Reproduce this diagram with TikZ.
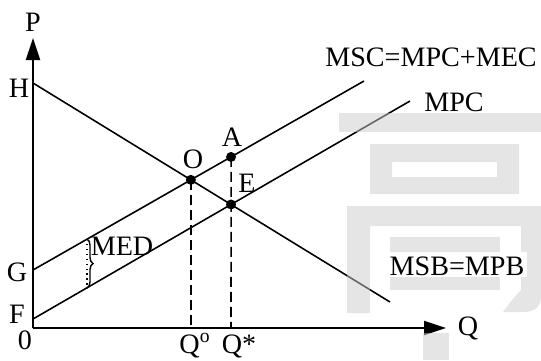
\documentclass[tikz,border=0pt]{standalone}
\usepackage{fontspec}
\setmainfont{Liberation Serif}
\usetikzlibrary{arrows.meta, decorations.pathreplacing}

\begin{document}
\begin{tikzpicture}[x=0.02cm, y=-0.02cm, >={Triangle[length=4.4mm, width=2.8mm]},
  every node/.style={font=\fontsize{16}{19}\selectfont, inner sep=0pt},
  curve/.style={line width=0.9pt},
  guide/.style={line width=0.9pt, dash pattern=on 0.2cm off 0.1cm},
  dot/.style={circle, fill, inner sep=0pt, minimum size=0.2cm},
  wm/.style={fill=gray!40, fill opacity=0.5}
]
  \useasboundingbox (0,0) rectangle (541,360);

  % Axes
  \coordinate (o0) at (33,328);
  \coordinate (ptop) at (33,38);
  \coordinate (qend) at (446,328);
  \draw[->, line width=1.1pt] (o0) -- (ptop);
  \draw[->, line width=1.1pt] (o0) -- (qend);

  % Demand and cost curves
  \coordinate (h) at (33,83);
  \coordinate (msb) at (390,302);
  \coordinate (g) at (33,270);
  \coordinate (msc) at (364,81);
  \coordinate (f) at (33,319);
  \coordinate (mpc) at (410,101);
  \draw[curve] (h) -- (msb);
  \draw[curve] (g) -- (msc);
  \draw[curve] (f) -- (mpc);

  % Equilibrium points
  \coordinate (o) at (intersection of h--msb and g--msc);
  \coordinate (e) at (intersection of h--msb and f--mpc);
  \coordinate (qo) at (o |- o0);
  \coordinate (qs) at (e |- o0);
  \coordinate (a) at (intersection of g--msc and e--qs);
  \draw[guide] (o) -- (qo);
  \draw[guide] (a) -- (qs);
  \node[dot] (dotO) at (o) {};
  \node[dot] (dotA) at (a) {};
  \node[dot] (dotE) at (e) {};

  % External damage between the two cost curves
  \coordinate (med1) at (87,239);
  \coordinate (med2) at (87,288);
  \draw[line width=0.8pt, dotted] (med1) -- (med2);
  \draw[line width=0.8pt, decorate, decoration={brace, amplitude=0.12cm}] (med1) -- (med2);

  % Labels
  \node (labP) at (33,22) {P};
  \node (labH) at (19,88) {H};
  \node (labG) at (17,272) {G};
  \node (labF) at (17,314) {F};
  \node (lab0) at (25,340) {0};
  \node (labQo) at (195,346) {Q\textsuperscript{o}};
  \node (labQs) at (239,346) {Q*};
  \node (labQ) at (468,328) {Q};
  \node (labO) at (193,159) {O};
  \node (labA) at (232,137) {A};
  \node (labE) at (247,183) {E};
  \node (labMED) at (122,246) {MED};
  \node (labMSC) at (431,57) {MSC=MPC+MEC};
  \node (labMPC) at (454,102) {MPC};
  \node (labMSB) at (457,266) {MSB=MPB};

  % Watermark
  \begin{scope}[even odd rule]
    \clip (0,0) rectangle (541,360) (389,252) rectangle (527,277);
    \fill[wm] (339,113) rectangle (541,132);
    \fill[wm] (370,144) rectangle (519,194) (392,162) rectangle (497,177);
    \fill[wm] (347,206) -- (541,206) -- (541,296) .. controls (541,308) and (534,312) .. (522,312)
      -- (503,312) -- (512,300) -- (521,290) -- (521,226) -- (370,226) -- (370,313) -- (347,313) -- cycle;
    \fill[wm] (390,237) rectangle (500,290);
    \fill[wm] (423,333) rectangle (449,360);
  \end{scope}
\end{tikzpicture}
\end{document}
